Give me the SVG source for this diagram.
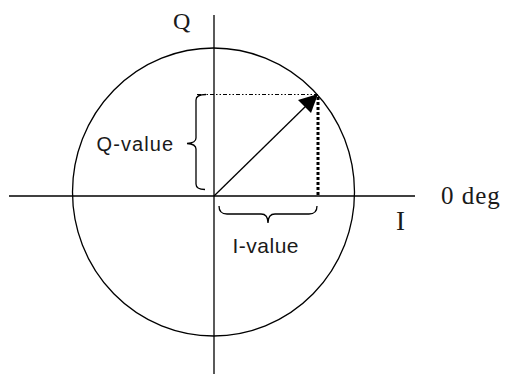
<svg xmlns="http://www.w3.org/2000/svg" width="505" height="374" viewBox="0 0 505 374">
<style>
.ln{stroke:#000;stroke-width:1.3;fill:none}
.sans{font-family:"Liberation Sans",Arial,sans-serif;fill:#1a1a1a}
.serif{font-family:"Liberation Serif","Times New Roman",serif;fill:#1a1a1a}
</style>
<rect width="505" height="374" fill="#fff"/>
<g id="circle">
<ellipse cx="213.5" cy="192" rx="141" ry="144" class="ln" stroke-width="1.2"/>
</g>
<g id="axes">
<line x1="214" y1="15" x2="214" y2="374" class="ln"/>
<line x1="9" y1="196" x2="415" y2="196" class="ln"/>
</g>
<g id="labels">
<text x="173" y="29" class="serif" font-size="24">Q</text>
<text x="396" y="230" class="serif" font-size="27">I</text>
<text x="441" y="204" class="serif" font-size="25" letter-spacing="1">0 deg</text>
<text x="96.5" y="150.7" class="sans" font-size="20" letter-spacing="1.1">Q-value</text>
<text x="232.5" y="253.3" class="sans" font-size="21" letter-spacing="0.5">I-value</text>
</g>
<g id="connectors">
<line x1="197" y1="94.5" x2="318" y2="94.5" stroke="#000" stroke-width="1.2" stroke-dasharray="4 2 1.5 2 1.5 2"/>
<line x1="318" y1="97" x2="318" y2="196" stroke="#000" stroke-width="3" stroke-dasharray="3 2"/>
<line x1="214" y1="196" x2="308" y2="104" class="ln"/>
<polygon points="318,94 298,100 311,113" fill="#000"/>
<path d="M206,94.5 Q196,94.5 196,100 L196,138 Q196,143 187,143.5 Q196,144 196,149 L196,184 Q196,189.5 205,189.5" class="ln"/>
<path d="M219,206 Q219,214 227,214 L261,214 Q268,214 268,223 Q268,214 275,214 L309,214 Q317,214 317,206" class="ln"/>
</g>
</svg>
